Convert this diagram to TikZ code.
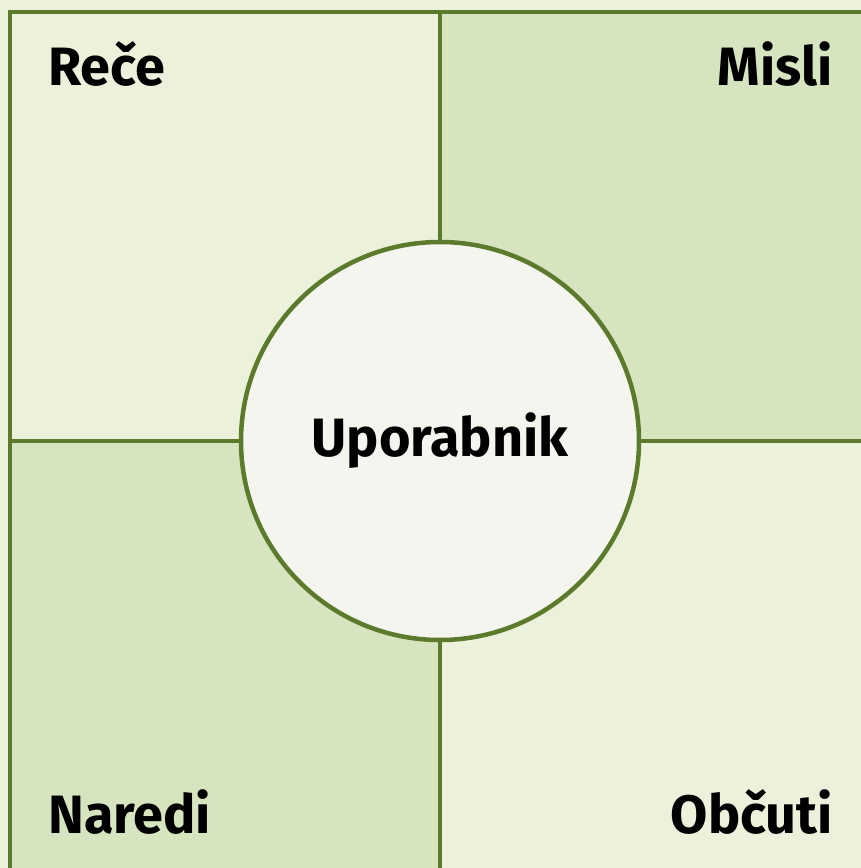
\documentclass[tikz,border=0pt]{standalone}
\usepackage{fontspec}
\setmainfont{Fira Sans}
\definecolor{lightq}{HTML}{EBF1DA}
\definecolor{darkq}{HTML}{D6E4C0}
\definecolor{circfill}{HTML}{F4F5EE}
\definecolor{edge}{HTML}{5B7A2B}
\begin{document}
\begin{tikzpicture}[x=1pt,y=-1pt,
  gridline/.style={draw=edge,line width=4.5pt},
  label/.style={font=\fontsize{54}{64}\selectfont\bfseries,inner sep=0pt,text=black}]
\useasboundingbox (0,0) rectangle (861,868);
\begin{scope}
\clip (0,0) rectangle (861,868);
\fill[lightq] (0,0) rectangle (861,868);
\fill[darkq] (440,12) rectangle (861,441);
\fill[darkq] (10,441) rectangle (440,868);
\draw[gridline] (10,880) -- (10,12) -- (870,12);
\draw[gridline] (440,12) -- (440,880);
\draw[gridline] (10,441) -- (870,441);
\end{scope}
\node[circle,minimum size=398pt,fill=circfill,draw=edge,line width=4.5pt] (user) at (440,441) {};
\node[label,anchor=base] (u) at (440,456) {Uporabnik};
\node[label,anchor=base west] (rece) at (48,85) {Reče};
\node[label,anchor=base east] (misli) at (833,85) {Misli};
\node[label,anchor=base west] (naredi) at (48,833) {Naredi};
\node[label,anchor=base east] (obcuti) at (833,833) {Občuti};
\end{tikzpicture}
\end{document}
